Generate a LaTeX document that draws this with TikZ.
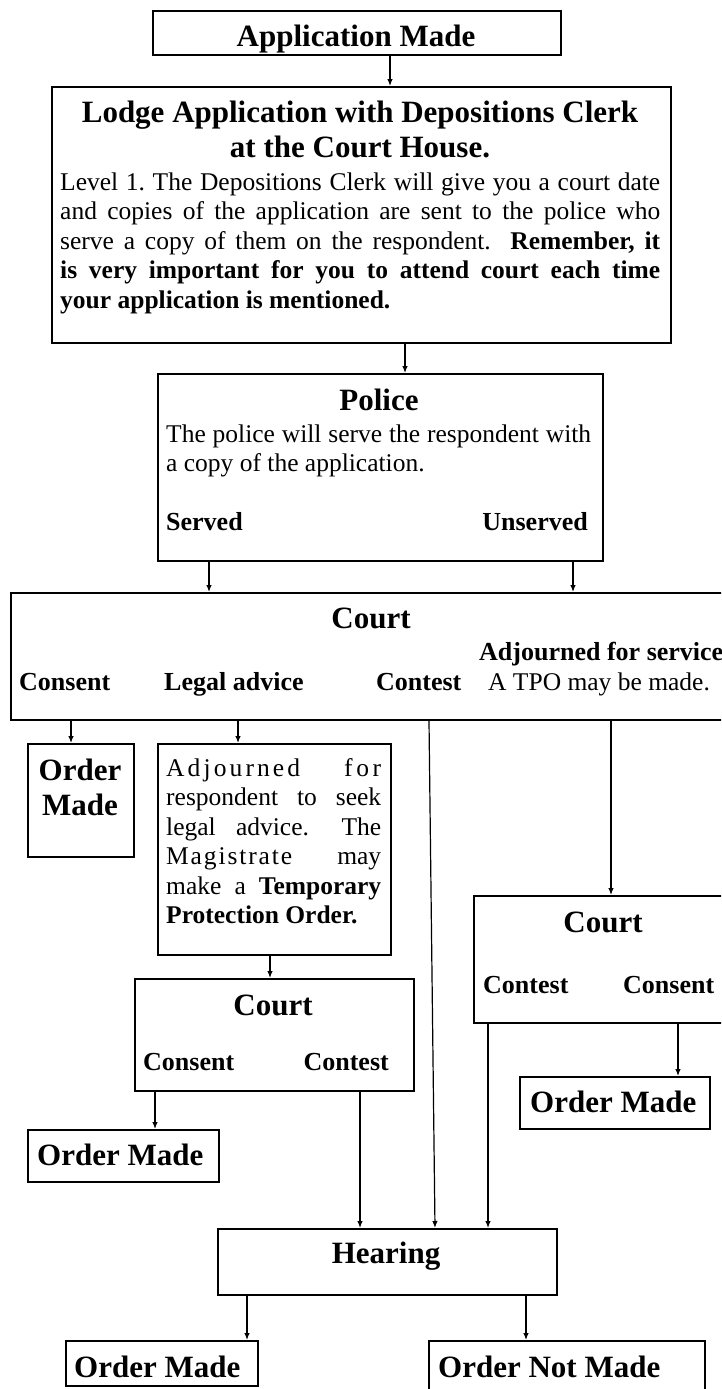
\documentclass[tikz,border=0pt]{standalone}
\usepackage{fontspec}
\setmainfont{Liberation Serif}
\usetikzlibrary{arrows.meta}
\frenchspacing
\tikzset{
  box/.style={draw, line width=2pt, inner sep=0pt, anchor=north west},
  arr/.style={-{Latex[length=7pt,width=5.5pt]}, line width=1.2pt},
  ttl/.style={font=\fontsize{31}{36}\selectfont\bfseries, inner sep=0pt},
  lbl/.style={font=\fontsize{26}{30}\selectfont\bfseries, inner sep=0pt},
  reg/.style={font=\fontsize{25.5}{29.5}\selectfont, inner sep=0pt},
}
\begin{document}
\begin{tikzpicture}[x=1pt,y=-1pt]
\useasboundingbox (0,0) rectangle (721,1389);
\clip (0,0) rectangle (721,1389);
% boxes
\node[box, minimum width=408pt, minimum height=44pt] (app) at (152,10) {};
\node[box, minimum width=619pt, minimum height=256pt] (lodge) at (51,86) {};
\node[box, minimum width=445pt, minimum height=187pt] (police) at (157,373) {};
\node[box, minimum width=730pt, minimum height=127pt] (court1) at (10,592) {};
\node[box, minimum width=106pt, minimum height=113pt] (om1) at (27,743) {};
\node[box, minimum width=233pt, minimum height=211pt] (adj) at (157,743) {};
\node[box, minimum width=279pt, minimum height=112pt] (court2) at (134,978) {};
\node[box, minimum width=191pt, minimum height=52pt] (om2) at (27,1129) {};
\node[box, minimum width=270pt, minimum height=127pt] (court3) at (473,895) {};
\node[box, minimum width=190pt, minimum height=52pt] (om3) at (519,1076) {};
\node[box, minimum width=339pt, minimum height=66pt] (hearing) at (217,1228) {};
\node[box, minimum width=192pt, minimum height=45pt] (om4) at (65,1340) {};
\node[box, minimum width=276pt, minimum height=70pt] (onm) at (428,1340) {};
% texts
\node[ttl, anchor=base] (tapp) at (356,47) {Application Made};
\node[ttl, anchor=base] (tlodge1) at (360,122) {Lodge Application with Depositions Clerk};
\node[ttl, anchor=base] (tlodge2) at (360,157) {at the Court House.};
\node[reg, anchor=base west] (blodge) at (60,190) {\parbox[t]{600pt}{Level 1. The Depositions Clerk will give you a court date\linebreak and copies of the application are sent to the police who\linebreak serve a copy of them on the respondent.\ \ \textbf{Remember, it}\linebreak \textbf{is very important for you to attend court each time}\linebreak \textbf{your application is mentioned.}}};
\node[ttl, anchor=base] (tpolice) at (379,410) {Police};
\node[reg, anchor=base west] (bpolice) at (166,442) {\parbox[t]{425pt}{The police will serve the respondent with\linebreak a copy of the application.}};
\node[lbl, anchor=base west] (served) at (166,530) {Served};
\node[lbl, anchor=base east] (unserved) at (588,530) {Unserved};
\node[ttl, anchor=base] (tcourt1) at (371,628) {Court};
\node[lbl, anchor=base west] (adjsvc) at (479,660) {Adjourned for service};
\node[lbl, anchor=base west] (consent1) at (19,690) {Consent};
\node[lbl, anchor=base west] (legal) at (164,690) {Legal advice};
\node[lbl, anchor=base west] (contest1) at (376,690) {Contest};
\node[reg, anchor=base west] (tpo) at (488,690) {A TPO may be made.};
\node[ttl, anchor=base] (order1) at (80,780) {Order};
\node[ttl, anchor=base] (made1) at (80,815) {Made};
\node[reg, anchor=base west] (badj) at (166,776) {\parbox[t]{215pt}{%
\hbox to\linewidth{\hbox to 134pt{A\hfil d\hfil j\hfil o\hfil u\hfil r\hfil n\hfil e\hfil d}\hfill\hbox to 37pt{f\hfil o\hfil r}}\par
\hbox to\linewidth{respondent\hfil to\hfil seek}\par
\hbox to\linewidth{legal\hskip 8pt plus 1fil advice.\hskip 8pt plus 2fil The}\par
\hbox to\linewidth{\hbox to 126pt{M\hfil a\hfil g\hfil i\hfil s\hfil t\hfil r\hfil a\hfil t\hfil e}\hfill may}\par
make a \textbf{Temporary}\linebreak \textbf{Protection Order.}}};
\node[ttl, anchor=base] (tcourt2) at (273,1015) {Court};
\node[lbl, anchor=base west] (consent2) at (143,1070) {Consent};
\node[lbl, anchor=base east] (contest2) at (389,1070) {Contest};
\node[ttl, anchor=base west] (tom2) at (37,1165) {Order Made};
\node[ttl, anchor=base] (tcourt3) at (603,932) {Court};
\node[lbl, anchor=base west] (contest3) at (483,993) {Contest};
\node[lbl, anchor=base west] (consent3) at (623,993) {Consent};
\node[ttl, anchor=base west] (tom3) at (530,1112) {Order Made};
\node[ttl, anchor=base] (thearing) at (386,1263) {Hearing};
\node[ttl, anchor=base west] (tom4) at (74,1377) {Order Made};
\node[ttl, anchor=base west] (tonm) at (438,1377) {Order Not Made};
% connector coordinates
\coordinate (a1) at ([xshift=238pt]app.south west);
\coordinate (l1) at ([xshift=354pt]lodge.south west);
\coordinate (p1) at ([xshift=52pt]police.south west);
\coordinate (p2) at ([xshift=416pt]police.south west);
\coordinate (c1) at ([xshift=61pt]court1.south west);
\coordinate (c2) at ([xshift=228pt]court1.south west);
\coordinate (c3) at ([xshift=419pt]court1.south west);
\coordinate (c4) at ([xshift=601pt]court1.south west);
\coordinate (hc) at ([xshift=218pt]hearing.north west);
\coordinate (ad1) at ([xshift=113pt]adj.south west);
\coordinate (k1) at ([xshift=21pt]court2.south west);
\coordinate (k2) at ([xshift=226pt]court2.south west);
\coordinate (r1) at ([xshift=15pt]court3.south west);
\coordinate (r2) at ([xshift=205pt]court3.south west);
\coordinate (h1) at ([xshift=30pt]hearing.south west);
\coordinate (h2) at ([xshift=309pt]hearing.south west);
% connectors
\draw[arr] (a1) -- (a1 |- lodge.north);
\draw[arr] (l1) -- (l1 |- police.north);
\draw[arr] (p1) -- (p1 |- court1.north);
\draw[arr] (p2) -- (p2 |- court1.north);
\draw[arr] (c1) -- (c1 |- om1.north);
\draw[arr] (c2) -- (c2 |- adj.north);
\draw[arr] (c3) -- (hc);
\draw[arr] (c4) -- (c4 |- court3.north);
\draw[arr] (ad1) -- (ad1 |- court2.north);
\draw[arr] (k1) -- (k1 |- om2.north);
\draw[arr] (k2) -- (k2 |- hearing.north);
\draw[arr] (r1) -- (r1 |- hearing.north);
\draw[arr] (r2) -- (r2 |- om3.north);
\draw[arr] (h1) -- (h1 |- om4.north);
\draw[arr] (h2) -- (h2 |- onm.north);
\end{tikzpicture}
\end{document}
